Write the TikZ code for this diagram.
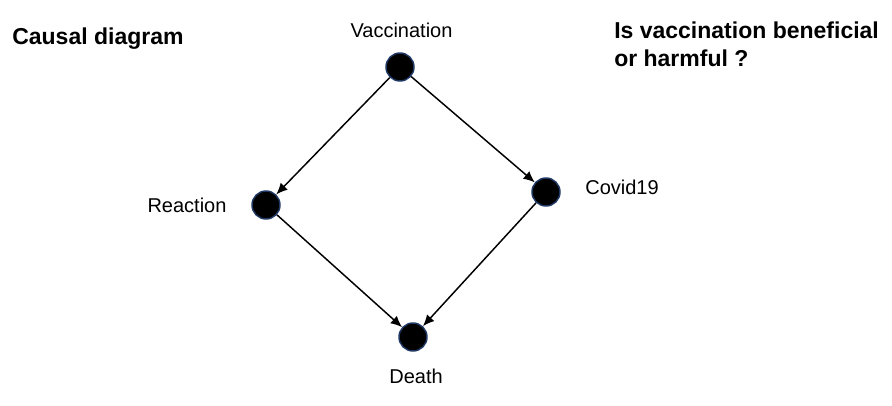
\documentclass[tikz,border=0pt]{standalone}
\usepackage{fontspec}
\setmainfont{Liberation Sans}
\usetikzlibrary{arrows.meta}
\definecolor{navy}{RGB}{31,56,100}
\begin{document}
\begin{tikzpicture}[x=0.75pt,y=-0.75pt,
    var/.style={circle,fill=black,draw=navy,line width=1.1pt,inner sep=0pt,minimum size=21pt},
    arr/.style={-{Latex[length=8.5pt,width=7.5pt]},line width=1.1pt},
    lbl/.style={font=\fontsize{15}{18}\selectfont,anchor=base,inner sep=0pt},
    title/.style={font=\fontsize{17.25}{21}\selectfont\bfseries,anchor=base west,inner sep=0pt,align=left}]
  \useasboundingbox (0,0) rectangle (892,406);
  % variables
  \node[var] (vac) at (400,67) {};
  \node[var] (rea) at (266,205) {};
  \node[var] (cov) at (546,192) {};
  \node[var] (dea) at (413,337) {};
  % labels
  \node[lbl] (vaclbl) at (401.5,38) {Vaccination};
  \node[lbl] (realbl) at (187,213) {Reaction};
  \node[lbl] (covlbl) at (622,195) {Covid19};
  \node[lbl] (dealbl) at (416,383) {Death};
  \node[title] (head) at (12,45) {Causal diagram};
  \node[title] (quest) at (614,67) {Is vaccination beneficial\\or harmful ?};
  % causal links
  \draw[arr] (vac) -- (rea);
  \draw[arr] (vac) -- (cov);
  \draw[arr] (rea) -- (dea);
  \draw[arr] (cov) -- (dea);
\end{tikzpicture}
\end{document}
